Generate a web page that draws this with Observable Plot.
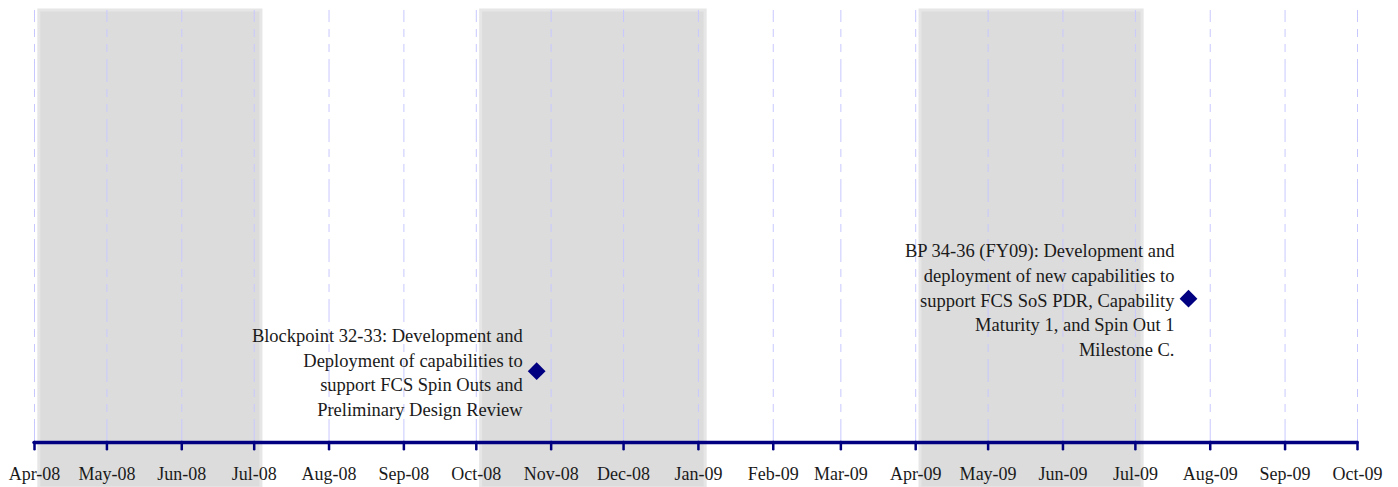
<!DOCTYPE html>
<html>
<head>
<meta charset="utf-8">
<script src="https://cdn.jsdelivr.net/npm/d3@7"></script>
<script src="https://cdn.jsdelivr.net/npm/@observablehq/plot@0.6"></script>
<style>
  html, body { margin: 0; padding: 0; background: #fff; }
  #chart svg { display: block; }
</style>
</head>
<body>
<div id="chart"></div>
<script>
// ---- data ----
const monthDates = ["2008-04-01","2008-05-01","2008-06-01","2008-07-01","2008-08-01","2008-09-01","2008-10-01","2008-11-01","2008-12-01","2009-01-01","2009-02-01","2009-03-01","2009-04-01","2009-05-01","2009-06-01","2009-07-01","2009-08-01","2009-09-01","2009-10-01"];
const monthLabels = ["Apr-08","May-08","Jun-08","Jul-08","Aug-08","Sep-08","Oct-08","Nov-08","Dec-08","Jan-09","Feb-09","Mar-09","Apr-09","May-09","Jun-09","Jul-09","Aug-09","Sep-09","Oct-09"];
const bandStarts = ["2008-04-03","2008-10-03","2009-04-03"];
const bandEnds   = ["2008-07-04","2009-01-04","2009-07-04"];
const milestoneDates = ["2008-10-26","2009-07-23"];
const milestoneHeights = [16.5, 33.3];
const milestoneLabels = [
  "Blockpoint 32-33: Development and\nDeployment of capabilities to\nsupport FCS Spin Outs and\nPreliminary Design Review",
  "BP 34-36 (FY09): Development and\ndeployment of new capabilities to\nsupport FCS SoS PDR, Capability\nMaturity 1, and Spin Out 1\nMilestone C."
];

// ---- build tables ----
const months = monthDates.map((d, i) => ({date: new Date(d), label: monthLabels[i]}));
const bands = bandStarts.map((d, i) => ({start: new Date(d), end: new Date(bandEnds[i])}));
const milestones = milestoneDates.map((d, i) => ({date: new Date(d), h: milestoneHeights[i], label: milestoneLabels[i]}));

const font = "'Liberation Serif', 'DejaVu Serif', serif";

const chart = Plot.plot({
  width: 1398,
  height: 487,
  marginTop: 10,
  marginBottom: 45,
  marginLeft: 34,
  marginRight: 41,
  style: {fontFamily: font, background: "#fff"},
  x: {type: "utc", domain: [new Date("2008-04-01"), new Date("2009-10-01")], axis: null},
  y: {domain: [0, 100], axis: null},
  marks: [
    Plot.rectX(bands, {x1: "start", x2: "end", y1: -10.6, y2: 100, fill: "#dcdcdc", stroke: "#e6e6e6", strokeWidth: 3}),
    Plot.ruleX(months, {x: "date", y1: 0, y2: 100, stroke: "#c8c8ff", strokeWidth: 1, strokeDasharray: "23,7,8,7,8,7"}),
    Plot.ruleY([0], {x1: months[0].date, x2: months[months.length-1].date, stroke: "#000080", strokeWidth: 3.5, strokeLinecap: "round"}),
    Plot.ruleX(months, {x: "date", y1: 0, y2: -1.7, stroke: "#000080", strokeWidth: 2.5, strokeLinecap: "round"}),
    Plot.text(months, {x: "date", y: -7.4, text: "label", fontSize: 18, fill: "#1a1a1a", lineAnchor: "middle"}),
    Plot.dot(milestones, {x: "date", y: "h", symbol: "diamond2", r: 8, fill: "#000080", stroke: "none"}),
    Plot.text(milestones, {x: "date", y: "h", text: "label", textAnchor: "end", dx: -14, fontSize: 18.5, lineHeight: 1.335, lineAnchor: "middle", fill: "#1a1a1a"})
  ]
});
document.getElementById("chart").appendChild(chart);
</script>
</body>
</html>
